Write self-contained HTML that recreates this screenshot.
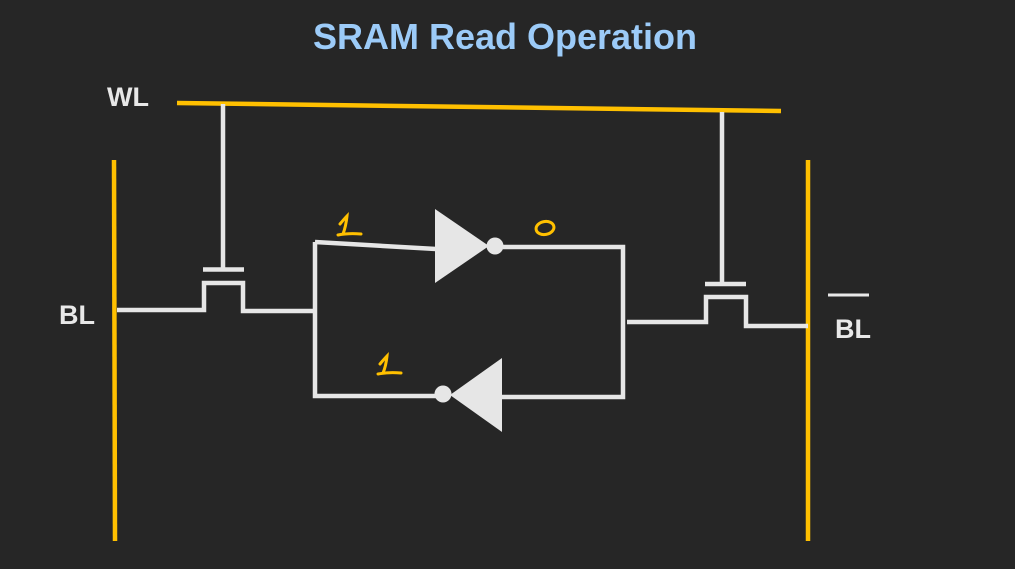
<!DOCTYPE html>
<html><head><style>
html,body{margin:0;padding:0;background:#262626;}
svg{display:block}
text{font-family:"Liberation Sans",sans-serif;font-weight:bold}
</style></head><body>
<svg width="1015" height="569" viewBox="0 0 1015 569">
<rect width="1015" height="569" fill="#262626"/>
<text x="505" y="49" text-anchor="middle" font-size="36" fill="#9ccbf8">SRAM Read Operation</text>
<text x="107" y="106" font-size="27" fill="#e8e8e8">WL</text>
<text x="59" y="324" font-size="27" fill="#e8e8e8">BL</text>
<text x="835" y="338" font-size="27" fill="#e8e8e8">BL</text>
<line x1="828" y1="295" x2="869" y2="295" stroke="#e8e8e8" stroke-width="3"/>
<g stroke="#ffc000" stroke-width="4.5" fill="none">
<line x1="177" y1="103" x2="781" y2="111"/>
<line x1="114" y1="160" x2="115" y2="541"/>
<line x1="808" y1="160" x2="808" y2="541"/>
</g>
<g stroke="#e6e6e6" stroke-width="4.5" fill="none">
<line x1="223" y1="104" x2="223" y2="268"/>
<line x1="203" y1="269.5" x2="244" y2="269.5"/>
<polyline points="117,310 204,310 204,283 243,283 243,311 315,311"/>
<polyline points="315,242 315,396 440,396"/>
<line x1="315" y1="242" x2="436" y2="249"/>
<polyline points="503,247 623,247 623,397 502,397"/>
<line x1="722" y1="112" x2="722" y2="283"/>
<line x1="705" y1="284" x2="746" y2="284"/>
<polyline points="627,322 706,322 706,297 746,297 746,326 808,326"/>
</g>
<g fill="#e6e6e6">
<polygon points="435,209 435,283 489,246"/>
<circle cx="495" cy="246" r="8.5"/>
<polygon points="450,395 502,358 502,432"/>
<circle cx="443" cy="394" r="8.5"/>
</g>
<g stroke="#ffc000" stroke-width="3" fill="none" stroke-linecap="round">
<path d="M340,224 Q345,218 347,216 Q346,226 343,234 M338,235 Q348,233 361,234"/>
<path d="M380,364 Q385,358 387,356 Q386,366 383,373 M378,374 Q388,372 401,373"/>
<ellipse cx="545" cy="228" rx="9" ry="6.5" transform="rotate(-10 545 228)"/>
</g>
</svg>
</body></html>
